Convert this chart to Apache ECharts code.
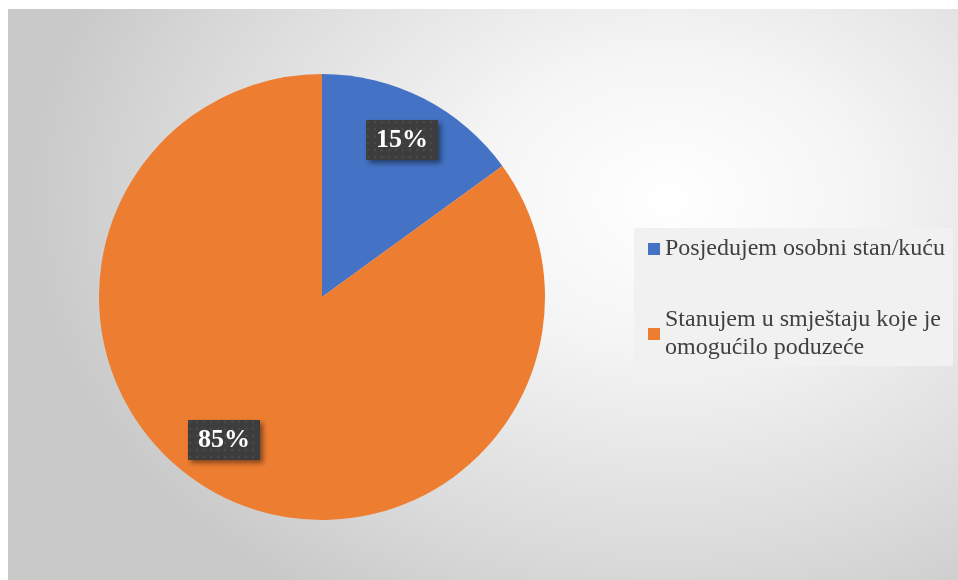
<!DOCTYPE html>
<html>
<head>
<meta charset="utf-8">
<script src="https://cdn.jsdelivr.net/npm/echarts@6/dist/echarts.min.js"></script>
<style>
html,body{margin:0;padding:0;background:#fff;}
#bg{position:absolute;left:8px;top:9px;width:950px;height:571px;
  background:radial-gradient(ellipse 640px 480px at 660px 190px,#ffffff 0%,#f5f5f5 30%,#dadada 75%,#c9c9c9 100%);}
#chart{position:absolute;left:0;top:0;width:958px;height:580px;}
</style>
</head>
<body>
<div id="bg"></div>
<div id="chart"></div>
<script>
const categories = ['Posjedujem osobni stan/kuću', 'Stanujem u smještaju koje je omogućilo poduzeće'];
const legendText = ['Posjedujem osobni stan/kuću', 'Stanujem u smještaju koje je\nomogućilo poduzeće'];
const values = [15, 85];
const colors = ['#4472C4', '#ED7D31'];

function patternCanvas(w, h) {
  const c = document.createElement('canvas');
  c.width = w; c.height = h;
  const ctx = c.getContext('2d');
  ctx.fillStyle = '#3d3d3d';
  ctx.fillRect(0, 0, w, h);
  ctx.fillStyle = '#4d4d4d';
  for (let y = 2; y < h; y += 7) {
    for (let x = 2; x < w; x += 7) {
      ctx.beginPath(); ctx.arc(x, y, 1.2, 0, Math.PI * 2); ctx.fill();
    }
  }
  return c;
}
const pat = patternCanvas(72, 40);

const chart = echarts.init(document.getElementById('chart'), null, {renderer: 'canvas'});
chart.setOption({
  animation: false,
  backgroundColor: 'transparent',
  legend: {
    orient: 'vertical',
    left: 634, top: 228,
    padding: [7, 8, 4, 14],
    backgroundColor: '#f1f1f1',
    itemWidth: 12, itemHeight: 12,
    itemGap: 43,
    icon: 'rect',
    data: categories.map((n, i) => ({name: n, itemStyle: {color: colors[i]}})),
    formatter: name => legendText[categories.indexOf(name)],
    textStyle: {
      fontFamily: 'Liberation Serif', fontSize: 24, color: '#404040',
      lineHeight: 28
    }
  },
  series: [
    {
      type: 'pie',
      center: [322, 297],
      radius: [0, 223],
      startAngle: 90,
      clockwise: true,
      silent: true,
      label: {show: false},
      labelLine: {show: false},
      data: categories.map((n, i) => ({name: n, value: values[i], itemStyle: {color: colors[i]}}))
    },
    {
      type: 'pie',
      center: [322, 297],
      radius: [128, 218],
      startAngle: 90,
      clockwise: true,
      silent: true,
      itemStyle: {color: 'transparent'},
      labelLine: {show: false},
      label: {
        show: true,
        position: 'inside',
        formatter: p => p.value + '%',
        fontFamily: 'Liberation Serif',
        fontWeight: 'bold',
        fontSize: 26,
        color: '#ffffff',
        backgroundColor: {image: pat},
        padding: [7, 10, 7, 10],
        shadowColor: 'rgba(0,0,0,0.45)',
        shadowBlur: 5,
        shadowOffsetX: 3,
        shadowOffsetY: 3
      },
      data: categories.map((n, i) => ({
        name: n, value: values[i],
        label: i === 1 ? {offset: [-18, -14]} : {}
      }))
    }
  ]
});
</script>
</body>
</html>
